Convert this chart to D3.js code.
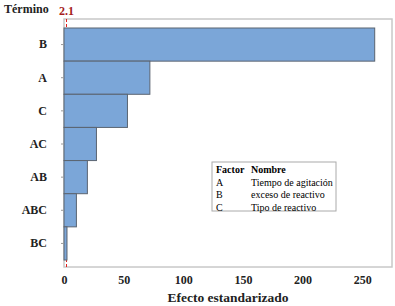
<!DOCTYPE html>
<html>
<head>
<meta charset="utf-8">
<script src="https://cdn.jsdelivr.net/npm/d3@7"></script>
<style>
  body { margin: 0; background: #fff; }
  text { font-family: "Liberation Serif", "Times New Roman", serif; }
</style>
</head>
<body>
<div class="container"></div>
<script>
// Pareto of standardized effects
const terms = ["B", "A", "C", "AC", "AB", "ABC", "BC"]
const effects = [260.5, 72, 53.2, 27.2, 19.6, 10.4, 2.5]
const refValue = 2.1
const xTicks = [0, 50, 100, 150, 200, 250]
const legendFactors = ["A", "B", "C"]
const legendNames = ["Tiempo de agitación", "exceso de reactivo", "Tipo de reactivo"]

const width = 395
const height = 306
const margin = {"top": 19, "right": 3, "bottom": 39, "left": 64}

const svg = d3.select(".container")
    .append("svg")
    .attr("width", width)
    .attr("height", height)

const x = d3.scaleLinear()
    .domain([0, 275])
    .range([margin.left, width - margin.right])

const y = d3.scaleBand()
    .domain(terms)
    .range([margin.top + 9, height - margin.bottom - 7])
    .padding(0)

// plot frame
svg.append("rect")
    .attr("x", margin.left)
    .attr("y", margin.top)
    .attr("width", width - margin.right - margin.left)
    .attr("height", height - margin.bottom - margin.top)
    .style("fill", "none")
    .style("stroke", "#c8c8c8")
    .style("stroke-width", 1.5)

// reference line (drawn under the bars)
svg.append("line")
    .attr("x1", x(refValue))
    .attr("x2", x(refValue))
    .attr("y1", margin.top)
    .attr("y2", height - margin.bottom)
    .style("stroke", "#e0201c")
    .style("stroke-width", 1)
    .style("stroke-dasharray", "3,2")

// bars
svg.selectAll(".bar")
    .data(terms)
    .enter().append("rect")
    .attr("class", "bar")
    .attr("x", x(0))
    .attr("y", d => y(d))
    .attr("width", (d, i) => x(effects[i]) - x(0))
    .attr("height", y.bandwidth())
    .style("fill", "#7ba6d8")
    .style("stroke", "#5a6470")
    .style("stroke-width", 1)

svg.append("text")
    .attr("x", x(refValue))
    .attr("y", 15)
    .attr("text-anchor", "middle")
    .style("fill", "#a51d1d")
    .style("font-size", "12px")
    .style("font-weight", "bold")
    .text(refValue)

// x axis
const xAxis = svg.append("g")
    .attr("transform", "translate(0," + (height - margin.bottom) + ")")
    .call(d3.axisBottom(x).tickValues(xTicks).tickSize(0).tickPadding(8))
xAxis.select(".domain").remove()
xAxis.selectAll("text")
    .style("font-family", "Liberation Serif, serif")
    .style("font-size", "12px")
    .style("font-weight", "bold")
    .style("fill", "#222")

// y axis
const yAxis = svg.append("g")
    .attr("transform", "translate(" + margin.left + ",0)")
    .call(d3.axisLeft(y).tickSize(3).tickPadding(14))
yAxis.select(".domain").remove()
yAxis.selectAll("line").style("stroke", "#999")
yAxis.selectAll("text")
    .style("font-family", "Liberation Serif, serif")
    .style("font-size", "12px")
    .style("font-weight", "bold")
    .style("fill", "#222")

// titles
svg.append("text")
    .attr("x", 4)
    .attr("y", 13)
    .style("font-size", "12px")
    .style("font-weight", "bold")
    .style("fill", "#222")
    .text("Término")

svg.append("text")
    .attr("x", 228)
    .attr("y", 302)
    .attr("text-anchor", "middle")
    .style("font-size", "13.5px")
    .style("font-weight", "bold")
    .style("fill", "#222")
    .text("Efecto estandarizado")

// legend
const lg = svg.append("g").attr("transform", "translate(212,162)")
lg.append("rect")
    .attr("width", 124)
    .attr("height", 49)
    .style("fill", "#fff")
    .style("stroke", "#aaa")
    .style("stroke-width", 1)

lg.append("text").attr("x", 4).attr("y", 11)
    .style("font-size", "10px").style("font-weight", "bold").text("Factor")
lg.append("text").attr("x", 39).attr("y", 11)
    .style("font-size", "10px").style("font-weight", "bold").text("Nombre")

legendFactors.forEach((f, i) => {
    lg.append("text").attr("x", 4).attr("y", 23.5 + i * 12.5)
        .style("font-size", "10px").text(f)
    lg.append("text").attr("x", 39).attr("y", 23.5 + i * 12.5)
        .style("font-size", "10px").text(legendNames[i])
})
</script>
</body>
</html>
